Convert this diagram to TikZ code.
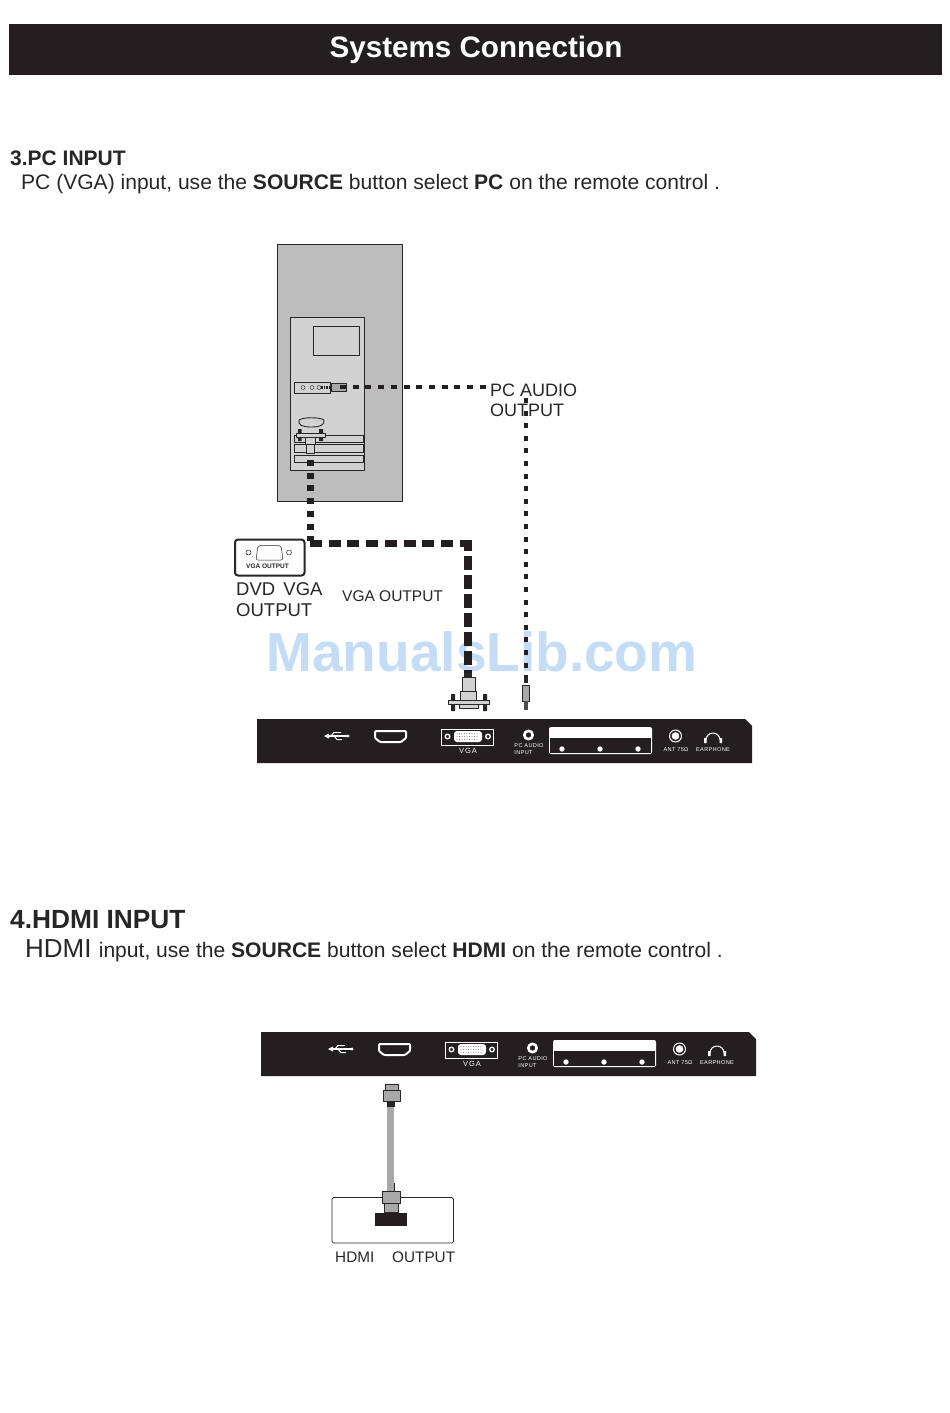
\documentclass[tikz,border=0pt]{standalone}
\usepackage{fontspec}
\setmainfont{Liberation Sans}
\usetikzlibrary{positioning}
\definecolor{panelblack}{HTML}{231F20}
\definecolor{casegrey}{HTML}{BDBDBD}
\definecolor{boardgrey}{HTML}{D2D2D2}
\definecolor{plugrey}{HTML}{A8A8A8}
\definecolor{wmblue}{HTML}{C4DCF6}
\tikzset{
  textlabel/.style={inner sep=0pt, anchor=base west, text=black!85},
  port/.style={inner sep=0pt, text=white, align=left, font=\fontsize{5.6}{6.8}\selectfont\addfontfeature{LetterSpace=6}},
  box/.style={draw=black!85, line width=0.9pt},
  plug/.style={draw=black!85, line width=0.6pt, fill=plugrey},
  lightplug/.style={plug, fill=boardgrey},
  vgacable/.style={panelblack, line width=7.5pt},
  audiocable/.style={panelblack, line width=4pt}
}
% back panel of the set, drawn from its upper left corner
\newcommand{\tvpanel}[1]{
  \begin{scope}[shift={(#1)}]
    \fill[panelblack] (0,0) -- (488,0) -- (495,7) -- (495,44) -- (0,44) -- cycle;
    % usb
    \draw[white, line width=1.3pt] (69,17) -- (91,17);
    \fill[white] (67,17) -- (72,14.5) -- (72,19.5) -- cycle (91,17) circle (1.6);
    \draw[white, line width=1pt] (74,17) -- (77,13.5) -- (84,13.5) (77,17) -- (80,20.5) -- (85,20.5);
    % hdmi
    \draw[white, line width=2pt, rounded corners=1pt] (118,12) -- (149,12) -- (149,19) -- (144,23) -- (123,23) -- (118,19) -- cycle;
    % vga
    \draw[white, line width=1pt] (184.5,10) rectangle (236.5,26);
    \fill[white, rounded corners=3pt] (197,12) rectangle (225,23);
    \foreach \x in {200,202.5,...,222}
      \fill[panelblack!60] (\x,14.5) circle (0.5) (\x,17.5) circle (0.5) (\x,20.5) circle (0.5);
    \foreach \x in {190.5,231}
      \draw[white, line width=1.3pt] (\x,17.5) circle (2.3);
    \node[port, font=\fontsize{7.5}{7.5}\selectfont\addfontfeature{LetterSpace=12}] (vgamark) at (211,32) {VGA};
    % audio, av block, antenna, earphone
    \draw[white, line width=2.6pt] (271.5,16) circle (4.2);
    \node[port] (audiomark) at (272,30) {PC AUDIO\\INPUT};
    \fill[white, rounded corners=2pt] (292,8) rectangle (395,35);
    \fill[panelblack] (293.2,19) rectangle (393.8,33.6);
    \foreach \x in {305,343,381}
      \fill[white] (\x,30) circle (2.7);
    \draw[white, line width=1pt] (418.5,17) circle (6);
    \fill[white] (418.5,17) circle (3.8);
    \node[port] (antmark) at (419,31) {ANT 75Ω};
    \draw[white, line width=1pt] (449,21) arc (180:360:7);
    \fill[white] (447,19) rectangle (449.5,24) (462.5,19) rectangle (465,24);
    \node[port] (earmark) at (456,31) {EARPHONE};
  \end{scope}
}
\begin{document}
\begin{tikzpicture}[x=1pt, y=-1pt, line join=round]
  \useasboundingbox (0,0) rectangle (950,1413);
  \fill[panelblack] (9,24) rectangle (942,75);
  \node[inner sep=0pt, anchor=base, text=white, font=\fontsize{29.6}{30}\selectfont\bfseries] (title) at (476,58) {Systems Connection};
  % section 3
  \node[textlabel, font=\fontsize{21}{21}\selectfont\bfseries] (pchead) at (10,165) {3.PC INPUT};
  \node[textlabel, font=\fontsize{21.06}{21}\selectfont] (pcline) at (21,189) {PC (VGA) input, use the \textbf{SOURCE} button select \textbf{PC} on the remote control .};
  \node[inner sep=0pt, text=wmblue, font=\fontsize{55}{55}\selectfont\bfseries] (watermark) at (482,652) {ManualsLib.com};
  % computer
  \filldraw[box, fill=casegrey] (277.5,244.5) rectangle (402.5,501.5);
  \filldraw[box, fill=boardgrey] (290.5,317.5) rectangle (364.5,470.5);
  \draw[box] (313.5,326.5) rectangle (359.5,355.5);
  \draw[box] (294.5,382.5) rectangle (330.5,393);
  \foreach \x in {303,312,319}
    \draw[black!80, line width=0.5pt] (\x,387.5) circle (2);
  \draw[black!85, line width=3pt, dash pattern=on 1.5pt off 1pt] (321,387) -- (331,387);
  \filldraw[plug] (331,383) rectangle (346,391);
  \foreach \y/\h in {435/7,444/8,455/7}
    \draw[box] (294.5,\y) rectangle ++(68.5,\h);
  \draw[box] (299,420) .. controls (303,417) and (320,417) .. (324,420) .. controls (325,425) and (320,427) .. (311,427) .. controls (302,427) and (298,425) .. (299,420) -- cycle;
  \fill[black!85] (298,429) rectangle (301.5,441) (319,429) rectangle (323,441);
  \filldraw[lightplug] (296,433) rectangle (325,437);
  \filldraw[lightplug] (305,437) rectangle (315,444);
  \filldraw[lightplug] (306,444) rectangle (314,453);
  % vga outlet of the dvd
  \draw[black!85, line width=2pt, rounded corners=3pt, fill=white] (235,539.5) rectangle (304.5,575.5);
  \draw[black!85, line width=0.5pt] (248.5,552.5) circle (2.5) (289,552.5) circle (2.5);
  \draw[black!85, line width=0.5pt, rounded corners=2pt] (258,545.5) -- (281,545.5) -- (283,560) -- (256,560) -- cycle;
  \node[inner sep=0pt, font=\fontsize{6.5}{6.5}\selectfont\bfseries, text=black!85] (vgasmall) at (267.5,566) {VGA OUTPUT};
  \node[textlabel, font=\fontsize{18.5}{21}\selectfont, align=left, anchor=north west] (dvdtext) at (236,582) {DVD\, VGA\\OUTPUT};
  \node[textlabel, font=\fontsize{15.5}{15.5}\selectfont] (vgatext) at (342,601) {VGA OUTPUT};
  \node[textlabel, font=\fontsize{18}{20.5}\selectfont, align=left, anchor=north west] (audiolabel) at (490,383.5) {PC AUDIO\\OUTPUT};
  % cables
  \coordinate (vgafrom) at (310,460);
  \coordinate (vgabend) at (310,541);
  \coordinate (vgaleft) at (310,543.7);
  \coordinate (vgacorner) at (472,543.7);
  \coordinate (vgadown) at (468,540);
  \coordinate (vgato) at (468,676);
  \coordinate (audiofrom) at (340,387);
  \coordinate (audioto) at (486,387);
  \coordinate (audiotop) at (526,398);
  \coordinate (audioend) at (526,684);
  \draw[panelblack, line width=7pt, dash pattern=on 6pt off 6.7pt] (vgafrom) -- (vgabend);
  \draw[vgacable, dash pattern=on 12pt off 6.7pt] (vgaleft) -- (vgacorner);
  \draw[vgacable, dash pattern=on 14pt off 5pt, dash phase=3pt] (vgadown) -- (vgato);
  \draw[audiocable, dash pattern=on 6pt off 6.7pt] (audiofrom) -- (audioto);
  \draw[audiocable, dash pattern=on 5pt off 7.6pt] (audiotop) -- (audioend);
  % vga plug
  \fill[black!85] (464,673) rectangle (472,678);
  \fill[black!85] (451,694) rectangle (455,711) (483,694) rectangle (487,711);
  \filldraw[lightplug] (462,677) rectangle (475,691);
  \filldraw[lightplug] (460.5,691) rectangle (476,700);
  \filldraw[lightplug] (459,704) rectangle (478,708.5);
  \filldraw[lightplug] (448,700) rectangle (489.5,704);
  % audio plug
  \fill[black!85] (524,677) rectangle (527.5,683);
  \filldraw[plug] (522.5,685) rectangle (529,701);
  \fill[black!70] (524,701) rectangle (527.5,710);
  \tvpanel{257,719}
  % section 4
  \node[textlabel, font=\fontsize{26.3}{26}\selectfont\bfseries] (hdmihead) at (10,928) {4.HDMI INPUT};
  \node[textlabel, font=\fontsize{21.06}{21}\selectfont] (hdmiline) at (25,957) {\fontsize{26}{26}\selectfont HDMI \fontsize{21.06}{21}\selectfont input, use the \textbf{SOURCE} button select \textbf{HDMI} on the remote control .};
  \tvpanel{261,1032}
  % hdmi lead
  \filldraw[box, line width=0.7pt, rounded corners=1.5pt, fill=white] (332,1197.5) rectangle (453.5,1243);
  \fill[panelblack] (375,1213) rectangle (407,1226);
  \coordinate (leadtop) at (390.5,1105);
  \coordinate (leadend) at (390.5,1192);
  \draw[plugrey, line width=7pt] (leadtop) -- (leadend);
  \draw[black!85, line width=0.6pt] (394,1183) -- (394,1191);
  \filldraw[plug] (385,1084) rectangle (398,1090);
  \filldraw[plug] (383,1090) rectangle (400,1101);
  \fill[black!85] (387,1101) rectangle (395,1107);
  \filldraw[plug] (384,1203) rectangle (398,1212);
  \filldraw[plug] (382.5,1191) rectangle (400,1203);
  \node[textlabel, font=\fontsize{15.3}{16}\selectfont] (hdmiout) at (335,1262) {HDMI};
  \node[textlabel, font=\fontsize{15.3}{16}\selectfont] (hdmioutb) at (392,1262) {OUTPUT};
\end{tikzpicture}
\end{document}
